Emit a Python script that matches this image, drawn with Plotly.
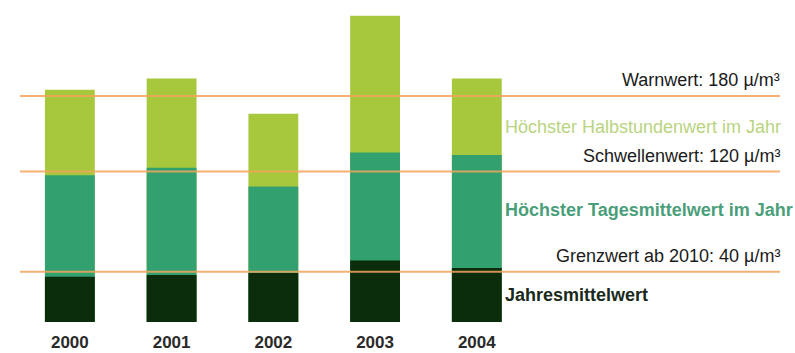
import plotly.graph_objects as go

years = ["2000", "2001", "2002", "2003", "2004"]
halbstunden = [185, 194, 166, 244, 194]
tagesmittel = [117, 123, 108, 135, 133]
jahresmittel = [36, 37.5, 39, 49, 43]

grenz_values = [40, 120, 180]
grenz_labels = ["Grenzwert ab 2010: 40 µ/m³", "Schwellenwert: 120 µ/m³", "Warnwert: 180 µ/m³"]

C_LIGHT = "#a7c83c"
C_MED = "#33a070"
C_DARK = "#0c2d0c"
C_ORANGE = "#f2a55c"
FONT = "Liberation Sans, Arial, sans-serif"

fig = go.Figure()
for vals, col in [(halbstunden, C_LIGHT), (tagesmittel, C_MED), (jahresmittel, C_DARK)]:
    fig.add_trace(go.Bar(x=years, y=vals, marker=dict(color=col, line=dict(width=0)),
                         width=0.49, showlegend=False))

# orange limit lines
for v in grenz_values:
    fig.add_shape(type="line", xref="paper", x0=0, x1=1, y0=v, y1=v,
                  line=dict(color=C_ORANGE, width=2), layer="above", opacity=0.85)
# gray baseline
fig.add_shape(type="line", xref="paper", x0=0, x1=1, y0=-1.6, y1=-1.6,
              line=dict(color="#858585", width=4), layer="above")

# limit labels (right aligned)
for v, lab in zip(grenz_values, grenz_labels):
    fig.add_annotation(x=1.003, xref="paper", y=v + 12.5, yref="y", text=lab,
                       xanchor="right", yanchor="middle", showarrow=False,
                       font=dict(family=FONT, size=18, color="#1a1a1a"))

# series labels
series_labels = [
    ("Höchster Halbstundenwert im Jahr", 155.5, "#b9d47f", False),
    ("Höchster Tagesmittelwert im Jahr", 89.5, "#4a9f7a", True),
    ("Jahresmittelwert", 21.5, "#1a2a1a", True),
]
for lab, yy, col, bold in series_labels:
    fig.add_annotation(x=0.635, xref="paper", y=yy, yref="y",
                       text=f"<b>{lab}</b>" if bold else lab,
                       xanchor="left", yanchor="middle", showarrow=False,
                       font=dict(family=FONT, size=18, color=col))

fig.update_layout(
    width=795, height=353,
    margin=dict(l=20, r=15, t=0, b=31, autoexpand=False),
    barmode="overlay",
    paper_bgcolor="white", plot_bgcolor="white",
    xaxis=dict(type="category", range=[-0.49, 6.98], showgrid=False, zeroline=False,
               showline=False, ticks="", automargin=False,
               tickfont=dict(family=FONT, size=17, color="#2a2a2a"),
               tickprefix="<b>", ticksuffix="</b>", ticklabelstandoff=8),
    yaxis=dict(range=[0, 256.6], visible=False, showgrid=False, zeroline=False),
)

fig.write_html("out.html")
